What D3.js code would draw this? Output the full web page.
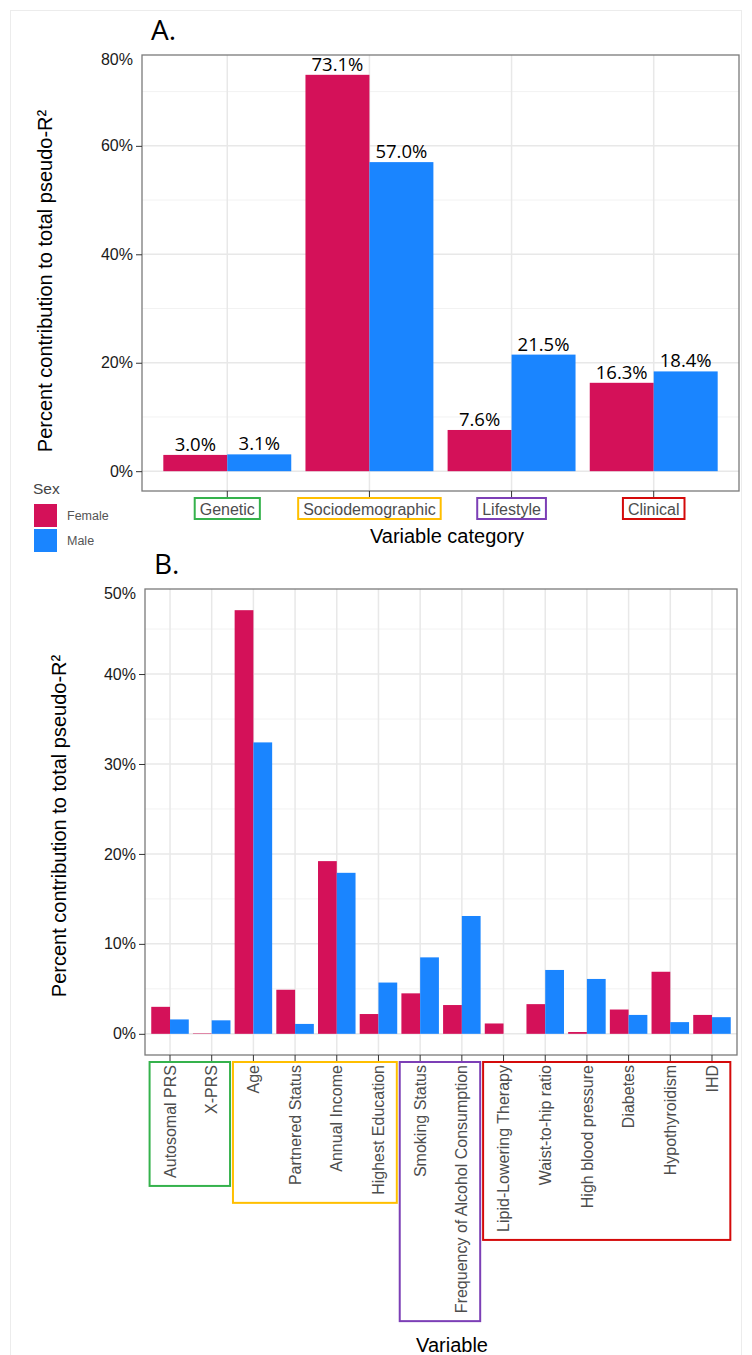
<!DOCTYPE html>
<html>
<head>
<meta charset="utf-8">
<script src="https://cdn.jsdelivr.net/npm/d3@7"></script>
<style>
  body { margin: 0; background: #fff; }
  text { font-family: "Liberation Sans", Arial, sans-serif; }
</style>
</head>
<body>
<svg id="chart" width="752" height="1355"></svg>
<script>
/**
 * DATA
 */
const sexes = ["Female", "Male"];
const sexColors = ["#d41159", "#1a85ff"];

// panel A: contribution by variable category
const categories = ["Genetic", "Sociodemographic", "Lifestyle", "Clinical"];
const categoryColors = ["#35b24c", "#ffbf00", "#7c3fb6", "#d40a0a"];
const categoryFemale = [3.0, 73.1, 7.6, 16.3];
const categoryMale = [3.1, 57.0, 21.5, 18.4];
const ticksA = [0, 20, 40, 60];
const topLabelA = "80%";

// panel B: contribution by single variable
const variables = ["Autosomal PRS", "X-PRS", "Age", "Partnered Status", "Annual Income",
    "Highest Education", "Smoking Status", "Frequency of Alcohol Consumption",
    "Lipid-Lowering Therapy", "Waist-to-hip ratio", "High blood pressure", "Diabetes",
    "Hypothyroidism", "IHD"];
const variableGroup = [0, 0, 1, 1, 1, 1, 2, 2, 3, 3, 3, 3, 3, 3];
const variableFemale = [3.0, 0.05, 47.1, 4.9, 19.2, 2.2, 4.5, 3.2, 1.15, 3.3, 0.2, 2.7, 6.9, 2.1];
const variableMale = [1.6, 1.5, 32.4, 1.1, 17.9, 5.7, 8.5, 13.1, 0, 7.1, 6.1, 2.1, 1.3, 1.85];
const ticksB = [0, 10, 20, 30, 40];
const topLabelB = "50%";

const yTitle = "Percent contribution to total pseudo-R²";

/**
 * HELPERS
 */
const svg = d3.select("#chart");

// light frame round the whole figure
svg.append("rect")
    .attr("x", 10.5).attr("y", 10.5)
    .attr("width", 731).attr("height", 1400)
    .attr("fill", "none").attr("stroke", "#ececec");

// ggplot-like panel with dodged bars, returns the x scale
function draw_panel(p) {
    const g = svg.append("g");
    const ymax = d3.max(p.female.concat(p.male));
    const y = d3.scaleLinear()
        .domain([-0.05 * ymax, ymax * 1.05])
        .range([p.bottom, p.top]);
    const x = d3.scalePoint()
        .domain(p.cats)
        .range([p.left, p.right])
        .padding(0.6);
    const bw = x.step() * 0.45;

    // grid
    const minor = d3.range(p.ticks[0] + p.step / 2, ymax * 1.05, p.step);
    g.selectAll(".minor").data(minor).join("line")
        .attr("x1", p.left).attr("x2", p.right)
        .attr("y1", d => y(d)).attr("y2", d => y(d))
        .attr("stroke", "#f2f2f2").attr("stroke-width", 1);
    g.selectAll(".hmajor").data(p.ticks).join("line")
        .attr("x1", p.left).attr("x2", p.right)
        .attr("y1", d => y(d)).attr("y2", d => y(d))
        .attr("stroke", "#e8e8e8").attr("stroke-width", 1.5);
    g.selectAll(".vmajor").data(p.cats).join("line")
        .attr("x1", d => x(d)).attr("x2", d => x(d))
        .attr("y1", p.top).attr("y2", p.bottom)
        .attr("stroke", "#e8e8e8").attr("stroke-width", 1.5);

    // bars
    const rows = p.cats.map((c, i) => ({cat: c, v: [p.female[i], p.male[i]]}));
    sexes.forEach((s, si) => {
        g.selectAll(".bar" + si).data(rows).join("rect")
            .attr("x", d => x(d.cat) - bw + si * bw)
            .attr("width", bw)
            .attr("y", d => y(d.v[si]))
            .attr("height", d => y(0) - y(d.v[si]))
            .attr("fill", sexColors[si]);
        if (p.labels) {
            g.selectAll(".lab" + si).data(rows).join("text")
                .attr("x", d => x(d.cat) - bw / 2 + si * bw)
                .attr("y", d => y(d.v[si]) - 4)
                .attr("text-anchor", "middle")
                .style("font-family", "'Open Sans', sans-serif")
                .style("font-size", "18.5px")
                .attr("fill", "#000")
                .text(d => d.v[si].toFixed(1) + "%");
        }
    });

    // border
    g.append("rect")
        .attr("x", p.left).attr("y", p.top)
        .attr("width", p.right - p.left).attr("height", p.bottom - p.top)
        .attr("fill", "none").attr("stroke", "#7a7a7a").attr("stroke-width", 1.3);

    // y axis
    const yaxis = g.append("g")
        .attr("transform", `translate(${p.left},0)`)
        .call(d3.axisLeft(y).tickValues(p.ticks).tickSize(6).tickPadding(3).tickFormat(d => d + "%"));
    yaxis.select(".domain").remove();
    yaxis.selectAll("line").attr("stroke", "#333");
    yaxis.selectAll("text").style("font-size", "16px").attr("fill", "#1a1a1a");
    // label at the top edge of the panel
    g.append("text")
        .attr("x", p.left - 9).attr("y", p.top + 4).attr("dy", "0.35em")
        .attr("text-anchor", "end")
        .style("font-size", "16px").attr("fill", "#1a1a1a")
        .text(p.topLabel);

    // x ticks
    g.selectAll(".xtick").data(p.cats).join("line")
        .attr("x1", d => x(d)).attr("x2", d => x(d))
        .attr("y1", p.bottom).attr("y2", p.bottom + 6)
        .attr("stroke", "#333");

    // y title
    g.append("text")
        .attr("transform", `translate(${p.ytitleX},${(p.top + p.bottom) / 2 + p.ytitleShift}) rotate(-90)`)
        .attr("text-anchor", "middle")
        .style("font-size", "20px").attr("fill", "#000")
        .text(yTitle);

    // panel letter
    g.append("text")
        .attr("x", p.left + 9).attr("y", p.top - 15)
        .style("font-family", "'Open Sans', sans-serif")
        .style("font-size", "28px").attr("fill", "#000")
        .text(p.letter);

    return x;
}

/**
 * PANEL A
 */
const A = {left: 142, right: 739, top: 55, bottom: 491,
    cats: categories, female: categoryFemale, male: categoryMale,
    ticks: ticksA, step: 20, topLabel: topLabelA, labels: true,
    ytitleX: 52, ytitleShift: 8, letter: "A."};
const xA = draw_panel(A);

// category labels in coloured boxes
categories.forEach((c, i) => {
    const t = svg.append("text")
        .attr("x", xA(c)).attr("y", A.bottom + 18).attr("dy", "0.35em")
        .attr("text-anchor", "middle")
        .style("font-size", "16px").attr("fill", "#4d4d4d")
        .text(c);
    const w = t.node().getComputedTextLength();
    svg.append("rect")
        .attr("x", xA(c) - w / 2 - 5).attr("y", A.bottom + 7)
        .attr("width", w + 10).attr("height", 21)
        .attr("fill", "none").attr("stroke", categoryColors[i]).attr("stroke-width", 2);
});
svg.append("text")
    .attr("x", 447).attr("y", 543)
    .attr("text-anchor", "middle")
    .style("font-size", "20px").attr("fill", "#000")
    .text("Variable category");

// legend
svg.append("text")
    .attr("x", 33).attr("y", 494)
    .style("font-size", "15.5px").attr("fill", "#444")
    .text("Sex");
sexes.forEach((s, i) => {
    svg.append("rect")
        .attr("x", 34).attr("y", 504 + i * 25)
        .attr("width", 23).attr("height", 23)
        .attr("fill", sexColors[i]);
    svg.append("text")
        .attr("x", 67).attr("y", 516 + i * 25).attr("dy", "0.35em")
        .style("font-size", "12.5px").attr("fill", "#555")
        .text(s);
});

/**
 * PANEL B
 */
const B = {left: 145, right: 737, top: 589, bottom: 1055,
    cats: variables, female: variableFemale, male: variableMale,
    ticks: ticksB, step: 10, topLabel: topLabelB, labels: false,
    ytitleX: 66, ytitleShift: 4, letter: "B."};
const xB = draw_panel(B);

// rotated variable names
const labelTop = B.bottom + 10;
const lens = variables.map(v => {
    const t = svg.append("text")
        .attr("transform", `translate(${xB(v)},${labelTop}) rotate(-90)`)
        .attr("dy", "0.35em")
        .attr("text-anchor", "end")
        .style("font-size", "16px").attr("fill", "#4d4d4d")
        .text(v);
    return t.node().getComputedTextLength();
});

// one box per variable category
categories.forEach((c, gi) => {
    const idx = d3.range(variables.length).filter(i => variableGroup[i] === gi);
    const x0 = xB(variables[idx[0]]) - xB.step() * 0.49;
    const x1 = xB(variables[idx[idx.length - 1]]) + xB.step() * 0.44;
    const depth = d3.max(idx, i => lens[i]);
    svg.append("rect")
        .attr("x", x0).attr("y", B.bottom + 7)
        .attr("width", x1 - x0).attr("height", labelTop - B.bottom - 7 + depth + 8)
        .attr("fill", "none").attr("stroke", categoryColors[gi]).attr("stroke-width", 2);
});

svg.append("text")
    .attr("x", 452).attr("y", 1352)
    .attr("text-anchor", "middle")
    .style("font-size", "20px").attr("fill", "#000")
    .text("Variable");
</script>
</body>
</html>
